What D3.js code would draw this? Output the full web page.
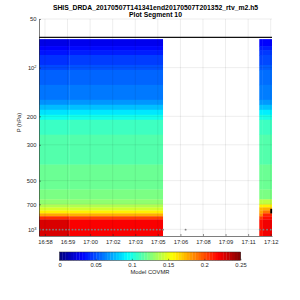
<!DOCTYPE html>
<html>
<head>
<meta charset="utf-8">
<script src="https://cdn.jsdelivr.net/npm/d3@7"></script>
<style>
  body { margin: 0; background: #fff; }
  svg { display: block; }
</style>
</head>
<body>
<svg id="chart" width="300" height="300"></svg>
<script>
const titleLines = ['SHIS_DRDA_20170507T141341end20170507T201352_rtv_m2.h5', 'Plot Segment 10'];
const yLabel = 'P (hPa)';
const cbarLabel = 'Model COVMR';

// x ticks (labels are these times cut to minutes)
const xTickTimes = ['16:58:03', '16:59:30', '17:00:57', '17:02:24', '17:03:51', '17:05:18',
  '17:06:45', '17:08:12', '17:09:39', '17:11:06', '17:12:33'];
const xDomain = ['16:57:40', '17:12:38'];

const yTicks = [50, 100, 200, 300, 500, 700, 1000];
const yTickLabels = ['50', ['10', '2'], '200', '300', '500', '700', ['10', '3']];
const yDomain = [50, 1100];

const cbarTicks = [0, 0.05, 0.1, 0.15, 0.2, 0.25];
const cbarTickLabels = ['0', '0.05', '0.1', '0.15', '0.2', '0.25'];
const cbarDomain = [0, 0.25];

// pressure band edges (hPa), top to bottom
const pressureEdges = [66.6, 73.5, 77.8, 83.5, 96.2, 103.3, 127.8, 158.1, 169.7, 182.2, 195.6,
  210, 259.8, 397.8, 567, 653, 701, 732, 764, 797, 831, 868, 1100];

// COVMR per band, one profile per column group
const profileA = [0.025, 0.031, 0.036, 0.043, 0.049, 0.055, 0.060, 0.067, 0.077, 0.087, 0.098,
  0.108, 0.114, 0.120, 0.124, 0.129, 0.137, 0.146, 0.160, 0.178, 0.208, 0.228];
const profileB = [0.027, 0.033, 0.038, 0.046, 0.051, 0.056, 0.061, 0.068, 0.078, 0.088, 0.099,
  0.109, 0.114, 0.120, 0.124, 0.129, 0.137, 0.145, 0.160, 0.176, 0.203, 0.220];
const profileC = [0.031, 0.038, 0.044, 0.048, 0.053, 0.058, 0.062, 0.069, 0.079, 0.090, 0.100,
  0.109, 0.114, 0.120, 0.124, 0.140, 0.160, 0.174, 0.178, 0.186, 0.205, 0.215];
const profileD = [0.031, 0.038, 0.045, 0.049, 0.054, 0.058, 0.062, 0.069, 0.079, 0.090, 0.100,
  0.109, 0.114, 0.120, 0.124, 0.140, 0.160, 0.176, 0.190, 0.210, 0.216, 0.222];

const columnStarts = ['16:57:30', '16:59:36', '17:11:49', '17:12:03'];
const columnEnds = ['16:59:36', '17:05:38', '17:12:03', '17:12:50'];
const columnProfiles = [profileA, profileB, profileC, profileD];

// observation times, drawn at surface pressure
const obsTimes = ['16:57:44', '16:57:56', '16:58:09', '16:58:21', '16:58:34', '16:58:46', '16:58:59',
  '16:59:11', '16:59:24', '16:59:36', '16:59:49', '17:00:01', '17:00:14', '17:00:26', '17:00:39',
  '17:00:51', '17:01:04', '17:01:16', '17:01:29', '17:01:41', '17:01:54', '17:02:06', '17:02:19',
  '17:02:31', '17:02:44', '17:02:56', '17:03:09', '17:03:21', '17:03:34', '17:03:46', '17:03:59',
  '17:04:11', '17:04:24', '17:04:36', '17:04:49', '17:05:01', '17:05:14', '17:05:26', '17:05:38',
  '17:07:05', '17:11:51', '17:12:05', '17:12:19', '17:12:33'];
const surfacePressure = 1005;

const topLinePressure = 65;
const markerTimes = ['17:12:35'];
const markerPressures = [772];

const margin = { top: 19, right: 28, bottom: 64, left: 39 };
const w = 300;
const h = 300;
const font = '"Liberation Sans", Arial, Helvetica, sans-serif';

// matlab jet
const jet = (n) => {
  const c = (v) => Math.round(255 * Math.max(0, Math.min(1, v)));
  return `rgb(${c(1.5 - Math.abs(4 * n - 3))},${c(1.5 - Math.abs(4 * n - 2))},${c(1.5 - Math.abs(4 * n - 1))})`;
};

const parseT = d3.utcParse('%H:%M:%S');

const svg = d3.select('#chart');

const x = d3.scaleUtc()
  .domain(xDomain.map(parseT))
  .range([margin.left, w - margin.right]);

const y = d3.scaleLog()
  .domain(yDomain)
  .range([margin.top, h - margin.bottom]);

const color = d3.scaleLinear().domain(cbarDomain).range([0, 1]).clamp(true);

svg.append('clipPath')
  .attr('id', 'plot-clip')
  .append('rect')
    .attr('x', margin.left)
    .attr('y', margin.top)
    .attr('width', w - margin.left - margin.right)
    .attr('height', h - margin.top - margin.bottom);

// data cells
const cells = svg.append('g').attr('clip-path', 'url(#plot-clip)');
columnStarts.forEach((start, i) => {
  const x0 = x(parseT(start));
  const x1 = x(parseT(columnEnds[i]));
  columnProfiles[i].forEach((v, j) => {
    cells.append('rect')
      .attr('x', x0)
      .attr('y', y(pressureEdges[j]))
      .attr('width', x1 - x0)
      .attr('height', y(pressureEdges[j + 1]) - y(pressureEdges[j]) + 0.3)
      .attr('fill', jet(color(v)));
  });
});

// grid on top of the data
const grid = svg.append('g')
  .attr('stroke', '#000')
  .attr('stroke-opacity', 0.12)
  .attr('stroke-width', 0.6);

grid.selectAll('line.gx')
  .data(xTickTimes)
  .enter()
  .append('line')
    .attr('x1', (d) => x(parseT(d)))
    .attr('x2', (d) => x(parseT(d)))
    .attr('y1', margin.top)
    .attr('y2', h - margin.bottom);

grid.selectAll('line.gy')
  .data(yTicks)
  .enter()
  .append('line')
    .attr('x1', margin.left)
    .attr('x2', w - margin.right)
    .attr('y1', (d) => y(d))
    .attr('y2', (d) => y(d));

// line at top of data
svg.append('line')
  .attr('x1', margin.left)
  .attr('x2', w - margin.right)
  .attr('y1', y(topLinePressure))
  .attr('y2', y(topLinePressure))
  .attr('stroke', '#111')
  .attr('stroke-width', 1.2);

// surface dots
svg.append('g')
  .attr('clip-path', 'url(#plot-clip)')
  .selectAll('circle')
  .data(obsTimes)
  .enter()
  .append('circle')
    .attr('cx', (d) => x(parseT(d)))
    .attr('cy', y(surfacePressure))
    .attr('r', 0.95)
    .attr('fill', '#808080');

svg.append('g')
  .selectAll('rect')
  .data(markerTimes)
  .enter()
  .append('rect')
    .attr('x', (d) => x(parseT(d)) - 0.9)
    .attr('y', (d, i) => y(markerPressures[i]) - 2.3)
    .attr('width', 1.8)
    .attr('height', 4.6)
    .attr('fill', '#000');

// axes
const xAxis = svg.append('g')
  .attr('transform', `translate(0, ${h - margin.bottom})`)
  .call(d3.axisBottom(x)
    .tickValues(xTickTimes.map(parseT))
    .tickFormat(d3.utcFormat('%H:%M'))
    .tickSizeInner(-2)
    .tickSizeOuter(0)
    .tickPadding(4));

const yAxis = svg.append('g')
  .attr('transform', `translate(${margin.left}, 0)`)
  .call(d3.axisLeft(y)
    .tickValues(yTicks)
    .tickFormat('')
    .tickSizeInner(-2)
    .tickSizeOuter(0));

yAxis.selectAll('.tick')
  .append('text')
    .attr('x', -2.5)
    .attr('dy', '0.34em')
    .attr('text-anchor', 'end')
    .each(function (d, i) {
      const lab = yTickLabels[i];
      const t = d3.select(this);
      if (Array.isArray(lab)) {
        t.append('tspan').text(lab[0]);
        t.append('tspan').attr('dy', '-0.45em').attr('font-size', 3.8).text(lab[1]);
      } else {
        t.text(lab);
      }
    });

[xAxis, yAxis].forEach((a) => {
  a.selectAll('path').attr('stroke', '#262626').attr('stroke-width', 0.6);
  a.selectAll('line').attr('stroke', '#262626').attr('stroke-width', 0.5);
  a.selectAll('text')
    .attr('fill', '#262626')
    .attr('font-family', font)
    .attr('font-size', 5.8);
});
yAxis.selectAll('tspan[font-size]').attr('font-size', 3.9);

svg.append('text')
  .attr('transform', `translate(21, ${(margin.top + h - margin.bottom) / 2 - 5}) rotate(-90)`)
  .attr('text-anchor', 'middle')
  .attr('font-family', font)
  .attr('font-size', 5.8)
  .attr('fill', '#262626')
  .text(yLabel);

// title
svg.append('g')
  .selectAll('text')
  .data(titleLines)
  .enter()
  .append('text')
    .attr('x', (margin.left + w - margin.right) / 2)
    .attr('y', (d, i) => 9.5 + i * 7.5)
    .attr('text-anchor', 'middle')
    .attr('font-family', font)
    .attr('font-weight', 'bold')
    .attr('font-size', 6.8)
    .attr('fill', '#000')
    .text((d) => d);

// colorbar
const cb = { x: 59.5, y: 252, w: 181, h: 8.3 };
const cbX = d3.scaleLinear().domain(cbarDomain).range([cb.x, cb.x + cb.w]);
const steps = d3.range(64);
svg.append('g')
  .selectAll('rect')
  .data(steps)
  .enter()
  .append('rect')
    .attr('x', (d) => cb.x + (d * cb.w) / 64)
    .attr('y', cb.y)
    .attr('width', cb.w / 64 + 0.3)
    .attr('height', cb.h)
    .attr('fill', (d) => jet((d + 0.5) / 64));

svg.append('rect')
  .attr('x', cb.x)
  .attr('y', cb.y)
  .attr('width', cb.w)
  .attr('height', cb.h)
  .attr('fill', 'none')
  .attr('stroke', '#262626')
  .attr('stroke-width', 0.5);

const cbAxis = svg.append('g')
  .attr('transform', `translate(0, ${cb.y + cb.h})`)
  .call(d3.axisBottom(cbX)
    .tickValues(cbarTicks)
    .tickFormat((d, i) => cbarTickLabels[i])
    .tickSizeInner(-1.5)
    .tickSizeOuter(0)
    .tickPadding(3));

cbAxis.select('path').remove();
cbAxis.selectAll('line').attr('stroke', '#262626').attr('stroke-width', 0.5);
cbAxis.selectAll('text')
  .attr('fill', '#262626')
  .attr('font-family', font)
  .attr('font-size', 5.8);

svg.append('text')
  .attr('x', cb.x + cb.w / 2)
  .attr('y', 274)
  .attr('text-anchor', 'middle')
  .attr('font-family', font)
  .attr('font-size', 5.8)
  .attr('fill', '#262626')
  .text(cbarLabel);
</script>
</body>
</html>
